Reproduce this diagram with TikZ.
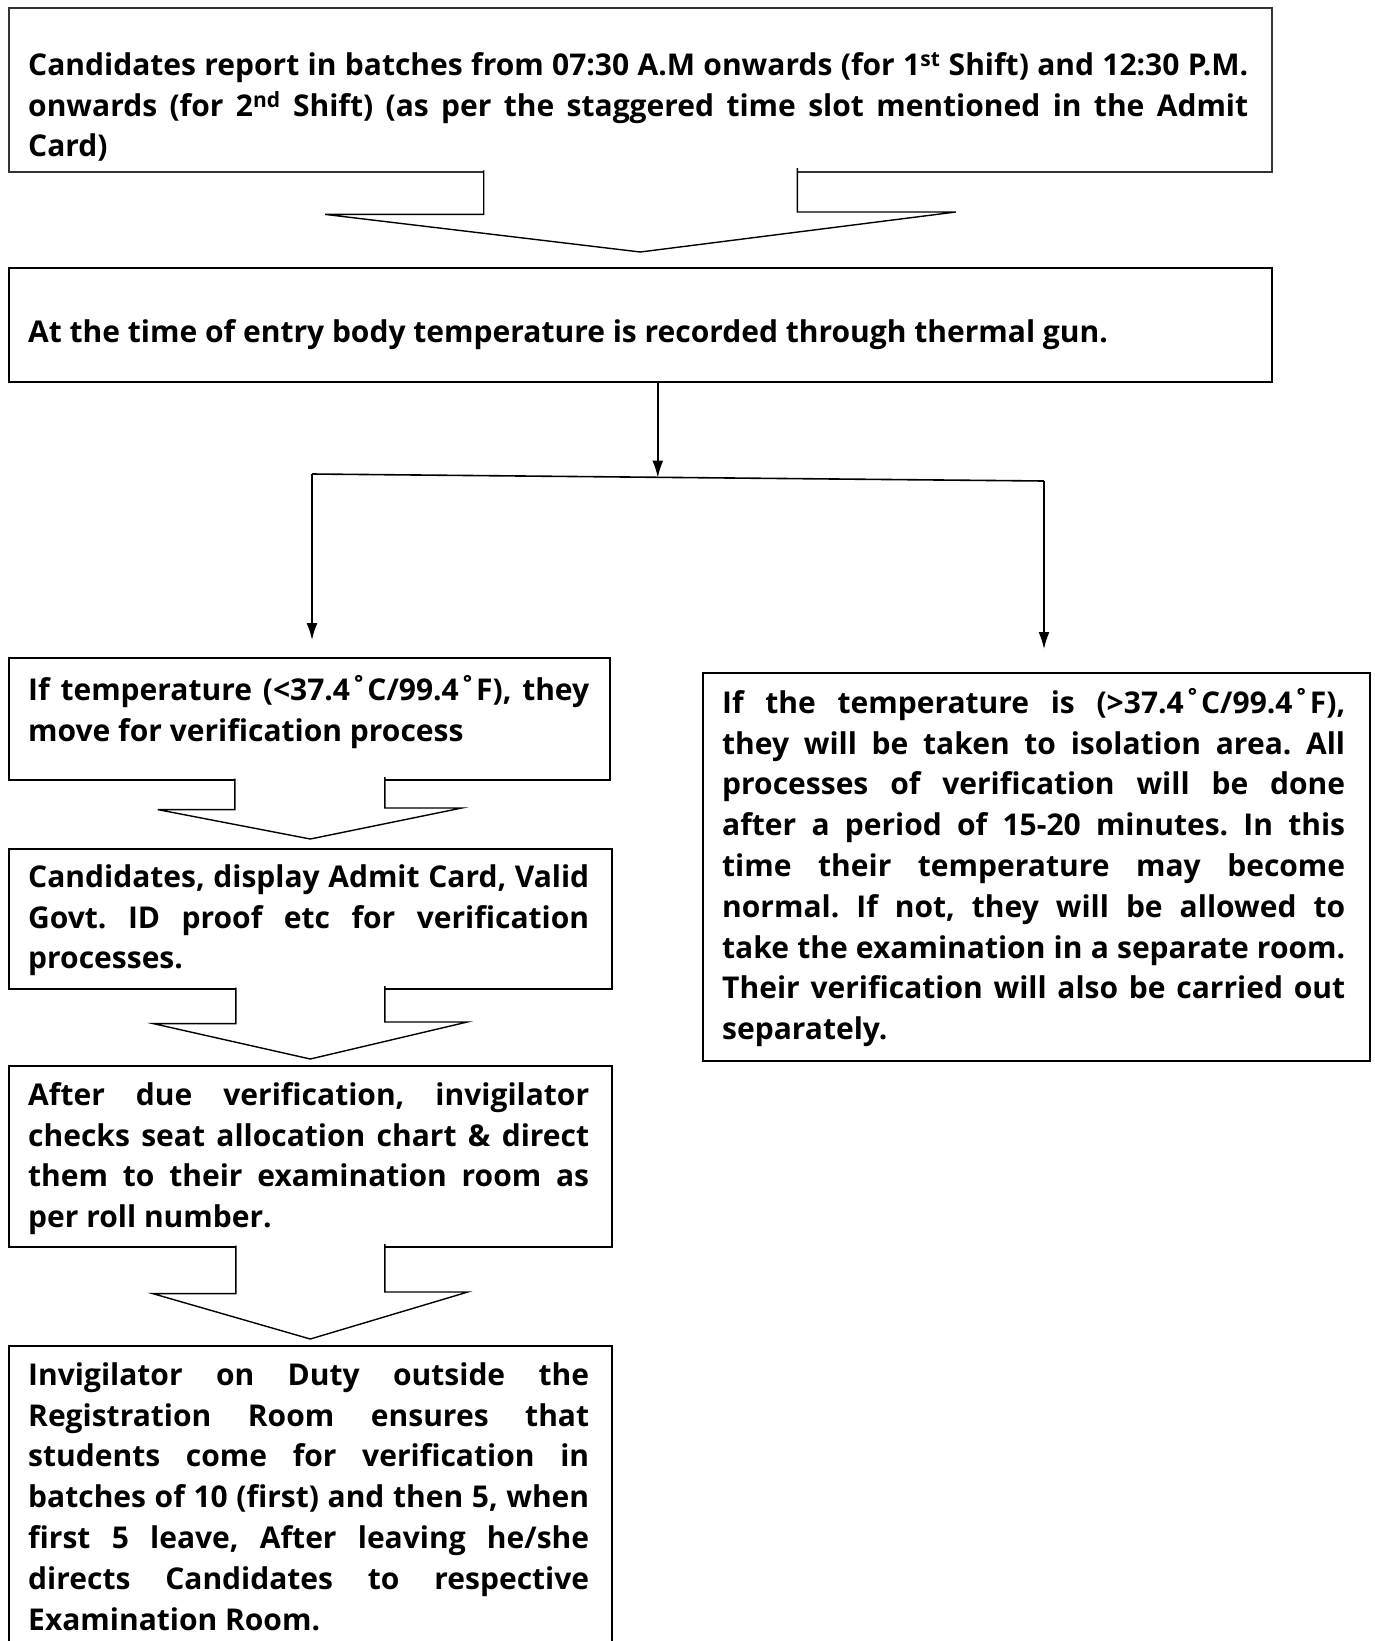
\documentclass[tikz,border=0pt]{standalone}
\usepackage{fontspec}
\setmainfont{Open Sans}
\usetikzlibrary{calc,arrows.meta,positioning}
\hyphenpenalty=10000
\exhyphenpenalty=10000
\tolerance=10000

\tikzset{
  frame/.style={draw, line width=1.6pt, anchor=north west, inner sep=0pt},
  txt/.style={anchor=north west, inner sep=0pt, align=justify,
    font=\fontsize{30}{40.8}\selectfont\bfseries\frenchspacing},
  fat/.style={draw, fill=white, line width=1.4pt, line join=miter},
  conn/.style={line width=1.6pt, -{Latex[length=17pt,width=11pt]}},
}

\begin{document}
\begin{tikzpicture}[x=1pt,y=-1pt]
\useasboundingbox (0,0) rectangle (1375,1641);
\clip (0,0) rectangle (1375,1641);

% boxes
\node[frame, draw=black!80, line width=2.4pt, minimum width=1263pt, minimum height=164pt] (b1) at (8,7) {};
\node[frame, minimum width=1263pt, minimum height=114pt] (b2) at (8,267) {};
\node[frame, minimum width=601pt, minimum height=122pt] (l1) at (8,657) {};
\node[frame, minimum width=603pt, minimum height=140pt] (l2) at (8,848) {};
\node[frame, minimum width=603pt, minimum height=181pt] (l3) at (8,1065) {};
\node[frame, minimum width=603pt, minimum height=340pt] (l4) at (8,1345) {};
\node[frame, minimum width=667pt, minimum height=388pt] (r) at (702,672) {};

% texts
\node[txt, text width=1220pt] (t1) at ([shift={(20pt,-39.5pt)}]b1.north west)
  {\strut Candidates report in batches from 07:30 A.M onwards (for 1\textsuperscript{st} Shift) and 12:30 P.M.\linebreak
   onwards (for 2\textsuperscript{nd} Shift) (as per the staggered time slot mentioned in the Admit\linebreak
   Card)};
\node[txt, text width=1220pt] (t2) at ([shift={(20pt,-46.5pt)}]b2.north west)
  {\strut At the time of entry body temperature is recorded through thermal gun.};
\node[txt, text width=561pt] (t3) at ([shift={(20pt,-14.5pt)}]l1.north west)
  {\strut If temperature (<37.4˚C/99.4˚F), they\linebreak
   move for verification process};
\node[txt, text width=561pt] (t4) at ([shift={(20pt,-10.5pt)}]l2.north west)
  {\strut Candidates, display Admit Card, Valid\linebreak
   Govt. ID proof etc for verification\linebreak
   processes.};
\node[txt, text width=561pt] (t5) at ([shift={(20pt,-11.5pt)}]l3.north west)
  {\strut After due verification, invigilator\linebreak
   checks seat allocation chart \& direct\linebreak
   them to their examination room as\linebreak
   per roll number.};
\node[txt, text width=561pt] (t6) at ([shift={(20pt,-11.5pt)}]l4.north west)
  {\strut Invigilator on Duty outside the\linebreak
   Registration Room ensures that\linebreak
   students come for verification in\linebreak
   batches of 10 (first) and then 5, when\linebreak
   first 5 leave, After leaving he/she\linebreak
   directs Candidates to respective\linebreak
   Examination Room.};
\node[txt, text width=623pt] (t7) at ([shift={(20pt,-12.5pt)}]r.north west)
  {\strut If the temperature is (>37.4˚C/99.4˚F),\linebreak
   they will be taken to isolation area. All\linebreak
   processes of verification will be done\linebreak
   after a period of 15-20 minutes. In this\linebreak
   time their temperature may become\linebreak
   normal. If not, they will be allowed to\linebreak
   take the examination in a separate room.\linebreak
   Their verification will also be carried out\linebreak
   separately.};

% block arrows
\path[fat] ($(b1.south)+(-157,-3)$) -- ++(0,44) -- ++(-158.5,0) -- ($(b2.north)+(0,-15)$)
  -- ++(315.5,-40) -- ++(-158.5,0) -- ++(0,-44);
\path[fat] ($(l1.south)+(-74.5,-2)$) -- ++(0,31) -- ++(-77,0) -- ($(l2.north)+(0,-9)$)
  -- ++(151.5,-31) -- ++(-77,0) -- ++(0,-31);
\path[fat] ($(l2.south)+(-74.5,-2)$) -- ++(0,36) -- ++(-82.5,0) -- ($(l3.north)+(0,-6)$)
  -- ++(157,-37) -- ++(-82.5,0) -- ++(0,-36);
\path[fat] ($(l3.south)+(-74.5,-2)$) -- ++(0,48) -- ++(-83,0) -- ($(l4.north)+(0,-6)$)
  -- ++(157.5,-47) -- ++(-83,0) -- ++(0,-48);

% temperature split
\coordinate (fl) at (312,474);
\coordinate (fr) at (1044,481);
\draw[conn] ([xshift=17.5pt]b2.south) -- ++(0,95);
\draw[line width=1.6pt] (fl) -- (fr);
\draw[conn] (fl) -- ([yshift=17pt]fl |- l1.north);
\draw[conn] (fr) -- ([yshift=23pt]fr |- r.north);
\end{tikzpicture}
\end{document}
